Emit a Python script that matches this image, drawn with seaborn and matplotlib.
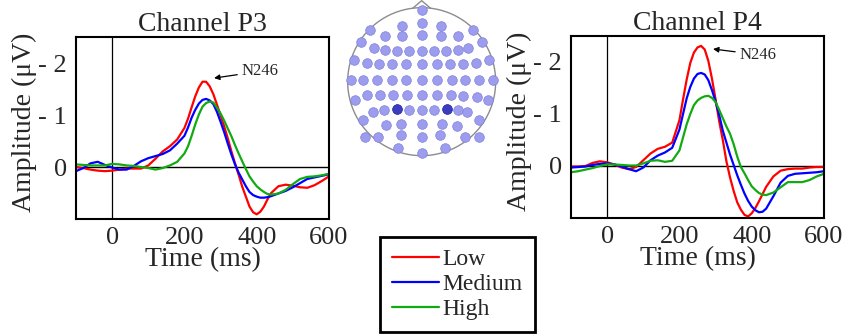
import numpy as np
import pandas as pd
import matplotlib
matplotlib.use("Agg")
import matplotlib.pyplot as plt
import seaborn as sns

# ================================
# DATA (amplitudes in microvolts, negative is drawn upward)
# ================================
# 20 ms steps, 10 ms around the N246 peak and the rebound
times = [-100, -80, -60, -40, -20, 0, 20, 40, 60, 80, 100, 120, 140, 160, 180,
         200, 210, 220, 230, 240, 250, 260, 270, 280, 290, 300, 310, 320, 330,
         340, 350, 360, 370, 380, 390, 400, 410, 420, 430, 440,
         460, 480, 500, 520, 540, 560, 580, 600]

p3_low = [0.00, 0.02, 0.05, 0.07, 0.08, 0.07, 0.05, 0.03, 0.03, 0.03, -0.03, -0.16, -0.30, -0.40, -0.53,
          -0.75, -0.93, -1.15, -1.36, -1.53, -1.64, -1.64, -1.55, -1.40, -1.20, -0.99, -0.78, -0.55, -0.30,
          -0.07, 0.15, 0.38, 0.57, 0.76, 0.87, 0.91, 0.86, 0.76, 0.62, 0.50,
          0.37, 0.34, 0.36, 0.39, 0.40, 0.35, 0.27, 0.18]
p3_medium = [0.08, 0.02, -0.07, -0.10, -0.04, 0.01, 0.05, 0.05, -0.02, -0.11, -0.17, -0.21, -0.25, -0.32, -0.45,
             -0.60, -0.76, -0.95, -1.10, -1.22, -1.29, -1.31, -1.28, -1.21, -1.06, -0.87, -0.67, -0.45, -0.24,
             -0.05, 0.11, 0.24, 0.37, 0.48, 0.54, 0.57, 0.59, 0.59, 0.58, 0.56,
             0.51, 0.46, 0.39, 0.31, 0.23, 0.20, 0.17, 0.14]
p3_high = [-0.05, -0.04, -0.03, -0.03, -0.03, -0.06, -0.05, -0.03, -0.02, 0.00, 0.02, 0.05, 0.02, -0.03, -0.10,
           -0.26, -0.40, -0.60, -0.82, -1.01, -1.16, -1.23, -1.26, -1.24, -1.14, -1.03, -0.89, -0.74, -0.59,
           -0.42, -0.26, -0.11, 0.04, 0.18, 0.28, 0.37, 0.43, 0.48, 0.52, 0.53,
           0.51, 0.44, 0.33, 0.23, 0.19, 0.18, 0.16, 0.13]

p4_low = [0.01, 0.01, 0.00, -0.06, -0.09, -0.07, -0.03, 0.03, 0.06, 0.02, -0.11, -0.24, -0.33, -0.37, -0.45,
          -0.88, -1.28, -1.66, -1.98, -2.18, -2.28, -2.31, -2.24, -2.02, -1.68, -1.28, -0.86, -0.50, -0.09,
          0.22, 0.48, 0.70, 0.84, 0.94, 0.97, 0.91, 0.81, 0.68, 0.54, 0.40,
          0.20, 0.09, 0.06, 0.05, 0.05, 0.03, 0.02, 0.02]
p4_medium = [0.03, 0.02, 0.01, -0.02, -0.04, -0.05, -0.03, 0.01, 0.06, 0.10, 0.03, -0.11, -0.20, -0.26, -0.35,
             -0.70, -1.00, -1.30, -1.52, -1.68, -1.77, -1.79, -1.76, -1.65, -1.46, -1.24, -0.98, -0.68, -0.45,
             -0.22, -0.02, 0.18, 0.36, 0.53, 0.67, 0.78, 0.85, 0.89, 0.88, 0.82,
             0.58, 0.32, 0.19, 0.15, 0.14, 0.13, 0.12, 0.10]
p4_high = [0.12, 0.10, 0.07, 0.04, 0.00, -0.03, -0.03, -0.02, -0.01, -0.01, -0.05, -0.10, -0.11, -0.08, -0.10,
           -0.30, -0.55, -0.80, -1.00, -1.17, -1.26, -1.31, -1.34, -1.35, -1.31, -1.23, -1.08, -0.92, -0.76,
           -0.62, -0.42, -0.18, 0.02, 0.14, 0.27, 0.39, 0.46, 0.52, 0.55, 0.56,
           0.51, 0.41, 0.31, 0.31, 0.31, 0.27, 0.20, 0.15]

conditions = ["Low", "Medium", "High"]
colors = {"Low": "#ff0000", "Medium": "#0000ff", "High": "#12aa12"}

# electrode layout of the head map (pixel grid of the small scalp drawing)
elec_x = [275,
          120, 215, 275, 333, 428,
          92, 165, 215, 275, 333, 385, 455,
          133, 165, 200, 238, 275, 312, 348, 385, 415,
          72, 112, 148, 187, 228, 275, 320, 360, 400, 437, 478,
          62, 100, 142, 185, 228, 275, 320, 365, 405, 448, 488,
          75, 112, 150, 188, 230, 275, 320, 362, 400, 440, 475,
          130, 163, 200, 238, 275, 312, 350, 385, 412,
          100, 168, 213, 275, 335, 380, 448,
          105, 145, 213, 275, 330, 405, 448,
          205, 345,
          275]
elec_y = [30,
          90, 77, 70, 77, 90,
          125, 108, 108, 105, 108, 108, 125,
          145, 150, 153, 153, 153, 153, 153, 150, 145,
          180, 188, 191, 193, 193, 193, 193, 193, 191, 188, 180,
          240, 240, 240, 240, 240, 240, 240, 240, 240, 240, 240,
          300, 285, 285, 285, 285, 285, 285, 285, 287, 290, 300,
          335, 330, 328, 330, 330, 330, 328, 330, 335,
          360, 375, 372, 372, 372, 377, 360,
          410, 410, 405, 411, 405, 410, 410,
          445, 445,
          460]
highlight = ["P3", "P4"]
highlight_x = [200, 350]
highlight_y = [328, 328]


def make_frame(low, medium, high):
    rows = []
    for cond, serie in zip(conditions, [low, medium, high]):
        for t, v in zip(times, serie):
            rows.append({"time": t, "amp": v, "condition": cond})
    return pd.DataFrame(rows)


p3 = make_frame(p3_low, p3_medium, p3_high)
p4 = make_frame(p4_low, p4_medium, p4_high)

# ================================
# FIGURE
# ================================
sns.set_style("white")
plt.rcParams["font.family"] = ["Liberation Serif", "DejaVu Serif"]

fig = plt.figure(figsize=(8.42, 3.34), dpi=100)
W, H = 842, 334
ax_p3 = fig.add_axes([76 / W, 1 - 219 / H, 253 / W, 182 / H])
ax_p4 = fig.add_axes([571 / W, 1 - 218 / H, 253 / W, 182 / H])

panels = [
    (ax_p3, p3, "Channel P3", (282, -1.71), (359, -1.84)),
    (ax_p4, p4, "Channel P4", (293, -2.25), (367, -2.14)),
]

for ax, datos, title, tip, txt in panels:
    sns.lineplot(data=datos, x="time", y="amp", hue="condition",
                 hue_order=conditions, palette=colors, linewidth=1.6,
                 estimator=None, legend=False, ax=ax)
    ax.axhline(0, color="black", lw=1.0, zorder=1)
    ax.axvline(0, color="black", lw=0.9, zorder=1)
    ax.set_xlim(-100, 600)
    ax.set_ylim(1.0, -2.5)
    ax.set_xticks([0, 200, 400, 600])
    ax.set_yticks([-2, -1, 0])
    ax.set_yticklabels(["- 2", "- 1", "0"])
    ax.tick_params(axis="both", length=0, labelsize=19)
    ax.tick_params(axis="x", pad=6)
    ax.tick_params(axis="y", pad=6.5)
    for s in ax.spines.values():
        s.set_color("black")
        s.set_linewidth(1.5)
    ax.set_title(title, fontsize=20, pad=4)
    ax.set_xlabel("Time (ms)", fontsize=20)
    ax.set_ylabel("Amplitude (μV)", fontsize=20)
    ax.xaxis.set_label_coords(0.5, -0.155)
    ax.yaxis.set_label_coords(-0.155, 0.53)
    ax.annotate("N246", xy=tip, xytext=txt, fontsize=12, va="center", ha="left",
                arrowprops=dict(arrowstyle="-|>", color="black", lw=0.9,
                                mutation_scale=8, shrinkA=1, shrinkB=0))

# ================================
# HEAD MAP
# ================================
ax_head = fig.add_axes([330 / W, 1 - 170 / H, 180 / W, 170 / H])
ax_head.set_xlim(0, 540)
ax_head.set_ylim(510, 0)
ax_head.axis("off")
ang = np.linspace(0, 2 * np.pi, 300)
ax_head.plot(275 + 222 * np.cos(ang), 245 + 222 * np.sin(ang), color="#8c8c8c", lw=1.0)
ax_head.plot([248, 275, 302], [25, 2, 25], color="#8c8c8c", lw=1.0)
ax_head.scatter(elec_x, elec_y, s=48, color="#9d9def", edgecolor="#8080d8", linewidth=0.5, zorder=3)
ax_head.scatter(highlight_x, highlight_y, s=48, color="#3c3cc0", edgecolor="#2e2ea8", linewidth=0.5, zorder=4)

# ================================
# LEGEND
# ================================
handles = ax_p3.get_lines()[:3]
leg = fig.legend(handles, conditions, loc="upper left",
                 bbox_to_anchor=(380 / W, 1 - 237 / H), fontsize=17,
                 frameon=True, fancybox=False, edgecolor="black",
                 handlelength=2.0, handletextpad=0.15, labelspacing=0.15,
                 borderpad=0.5, borderaxespad=0)
leg.get_frame().set_linewidth(2)
leg.get_frame().set_alpha(1)

fig.savefig("out.png", dpi=100)
